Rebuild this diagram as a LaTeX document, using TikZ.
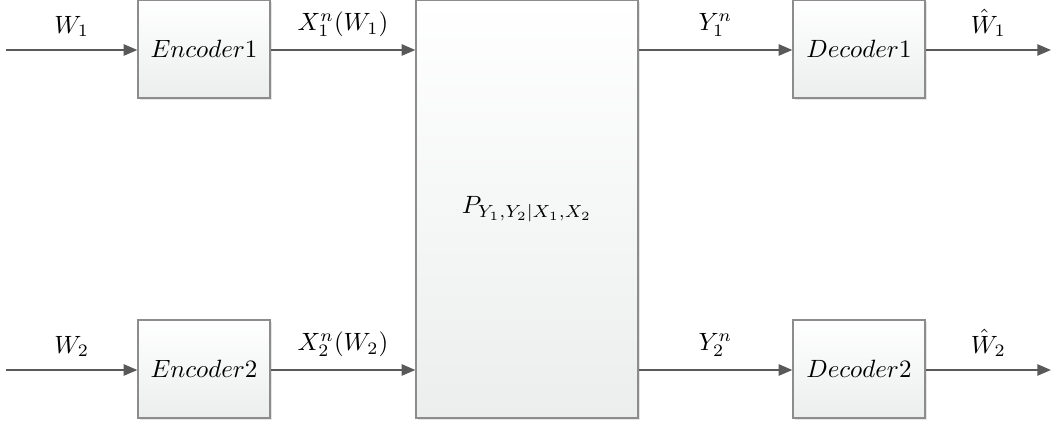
\documentclass[tikz,border=0pt]{standalone}
\usepackage{amsmath,amssymb}
\usepackage{xcolor}
\usepackage{tikz}
\usetikzlibrary{arrows.meta,positioning,shadows}
\definecolor{lineg}{HTML}{595959}
\definecolor{edgeg}{HTML}{8C8C8C}
\definecolor{fillbot}{HTML}{ECEEEE}

\begin{document}
\begin{tikzpicture}[x=0.4pt, y=-0.4pt,
  blk/.style={draw=edgeg, line width=0.5pt, top color=white, bottom color=fillbot,
              minimum width=52.8pt, minimum height=39.2pt, inner sep=0pt,
              drop shadow={shadow xshift=0.8pt, shadow yshift=-0.8pt, opacity=0.25, fill=black!40}},
  chan/.style={blk, minimum width=88.8pt, minimum height=167.2pt},
  lbl/.style={above=1.5pt, text=black},
  arr/.style={-{Triangle[length=5.5pt, width=4.5pt]}, line width=0.8pt, lineg}]
  \useasboundingbox (0,0) rectangle (1053,424);
  % blocks
  \node[blk] (enc1) at (204,49) {$Encoder1$};
  \node[blk] (enc2) at (204,369) {$Encoder2$};
  \node[chan] (ch) at (527,209) {$P_{Y_1,Y_2|X_1,X_2}$};
  \node[blk] (dec1) at (859,49) {$Decoder1$};
  \node[blk] (dec2) at (859,369) {$Decoder2$};
  % free ends
  \coordinate (in1) at (6,50);
  \coordinate (in2) at (6,370);
  \coordinate (out1) at (1051,50);
  \coordinate (out2) at (1051,370);
  % connectors
  \draw[arr] (in1) -- node[lbl] {$W_1$} (in1 -| enc1.west);
  \draw[arr] (in2) -- node[lbl] {$W_2$} (in2 -| enc2.west);
  \draw[arr] (in1 -| enc1.east) -- node[lbl] {$X_1^n(W_1)$} (in1 -| ch.west);
  \draw[arr] (in2 -| enc2.east) -- node[lbl] {$X_2^n(W_2)$} (in2 -| ch.west);
  \draw[arr] (in1 -| ch.east) -- node[lbl] {$Y_1^n$} (in1 -| dec1.west);
  \draw[arr] (in2 -| ch.east) -- node[lbl] {$Y_2^n$} (in2 -| dec2.west);
  \draw[arr] (in1 -| dec1.east) -- node[lbl] {$\hat{W}_1$} (out1);
  \draw[arr] (in2 -| dec2.east) -- node[lbl] {$\hat{W}_2$} (out2);
\end{tikzpicture}
\end{document}
